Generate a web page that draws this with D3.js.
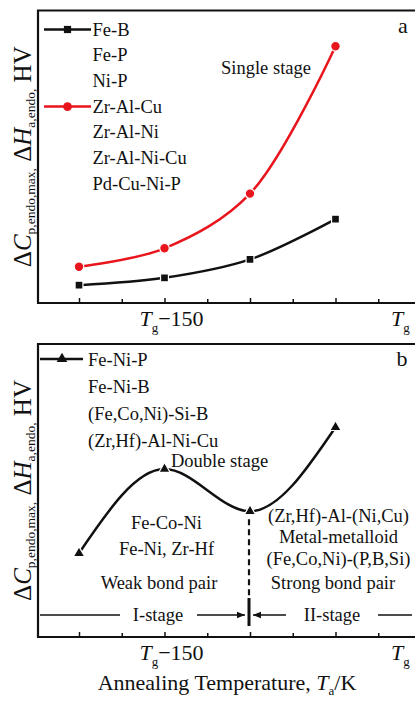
<!DOCTYPE html>
<html>
<head>
<meta charset="utf-8">
<script src="https://cdn.jsdelivr.net/npm/d3@7/dist/d3.min.js"></script>
<style>
  html, body { margin: 0; padding: 0; background: #fff; }
  svg text { font-family: 'Liberation Serif', 'Times New Roman', serif; fill: #111; }
</style>
</head>
<body>
<div id="root"></div>
<script>
// annealing steps (0 .. 3), Tg-150 sits on step 1
var steps = [0, 1, 2, 3];
var majorTicks = [0, 1, 2, 3];
var minorTicks = [0.5, 1.5, 2.5, 3.5];

// panel a (single stage)
var feB = [6.1, 8.6, 14.9, 28.7];
var zrAlCu = [12.4, 18.7, 37.4, 87.8];
var legendA = ['Fe-B', 'Fe-P', 'Ni-P', 'Zr-Al-Cu', 'Zr-Al-Ni', 'Zr-Al-Ni-Cu', 'Pd-Cu-Ni-P'];

// panel b (double stage)
var feNiP = [28.6, 57.3, 42.9, 71.6];
var legendB = ['Fe-Ni-P', 'Fe-Ni-B', '(Fe,Co,Ni)-Si-B', '(Zr,Hf)-Al-Ni-Cu'];
var weakBond = ['Fe-Co-Ni', 'Fe-Ni, Zr-Hf'];
var strongBond = ['(Zr,Hf)-Al-(Ni,Cu)', 'Metal-metalloid', '(Fe,Co,Ni)-(P,B,Si)'];

var w = 415, h = 705;
var red = '#e8161c', black = '#111';

var svg = d3.select('#root')
  .append('svg')
    .attr('width', w)
    .attr('height', h);

var defs = svg.append('defs');
defs.append('marker')
    .attr('id', 'arrow')
    .attr('viewBox', '0 0 10 10')
    .attr('refX', 10)
    .attr('refY', 5)
    .attr('markerWidth', 10)
    .attr('markerHeight', 8)
    .attr('markerUnits', 'userSpaceOnUse')
    .attr('orient', 'auto')
  .append('path')
    .attr('d', 'M0,1 L10,5 L0,9 Z')
    .attr('fill', black);

var x = d3.scaleLinear().domain([0, 3]).range([79, 335.5]);
var left = 38, right = 417;

function panel(top, bottom) {
  var y = d3.scaleLinear().domain([0, 100]).range([bottom, top]);
  var g = svg.append('g');

  g.append('path')
      .attr('d', 'M' + right + ',' + top + 'H' + left + 'V' + bottom + 'H' + right)
      .attr('fill', 'none')
      .attr('stroke', black)
      .attr('stroke-width', 2.2);

  g.append('g')
      .attr('transform', 'translate(0,' + bottom + ')')
      .call(d3.axisBottom(x).tickValues(majorTicks).tickSizeInner(-5).tickSizeOuter(0).tickFormat(''));
  g.append('g')
      .attr('transform', 'translate(0,' + bottom + ')')
      .call(d3.axisBottom(x).tickValues(minorTicks).tickSizeInner(-4).tickSizeOuter(0).tickFormat(''));
  g.selectAll('.domain').remove();
  g.selectAll('.tick line').attr('stroke', black).attr('stroke-width', 1.5);

  // tick labels
  var t1 = g.append('text')
      .attr('x', x(1) + 7)
      .attr('y', bottom + 23)
      .attr('text-anchor', 'middle')
      .style('font-size', '22px');
  t1.append('tspan').style('font-style', 'italic').text('T');
  t1.append('tspan').style('font-size', '13px').attr('dy', 6).text('g');
  t1.append('tspan').attr('dy', -6).text('\u2212150');

  var t2 = g.append('text')
      .attr('x', x(3.76))
      .attr('y', bottom + 23)
      .attr('text-anchor', 'middle')
      .style('font-size', '22px');
  t2.append('tspan').style('font-style', 'italic').text('T');
  t2.append('tspan').style('font-size', '13px').attr('dy', 6).text('g');

  // y axis title
  var yl = g.append('text')
      .attr('transform', 'translate(31,' + ((top + bottom) / 2) + ') rotate(-90)')
      .attr('text-anchor', 'middle')
      .style('font-size', '25px');
  yl.append('tspan').text('\u0394');
  yl.append('tspan').style('font-style', 'italic').text('C');
  yl.append('tspan').style('font-size', '13.5px').attr('dy', 4).text('p,endo,max,');
  yl.append('tspan').attr('dy', -4).text(' \u0394');
  yl.append('tspan').style('font-style', 'italic').text('H');
  yl.append('tspan').style('font-size', '13.5px').attr('dy', 4).text('a,endo,');
  yl.append('tspan').attr('dy', -4).text(' HV');

  return { g: g, y: y };
}

// ---------- panel a ----------
var pa = panel(10.5, 303);
var ya = pa.y;

var lineA = d3.line()
  .x(function (d, i) { return x(steps[i]); })
  .y(function (d) { return ya(d); })
  .curve(d3.curveCatmullRom);

pa.g.append('path')
    .datum(feB)
    .attr('d', lineA)
    .attr('fill', 'none')
    .attr('stroke', black)
    .attr('stroke-width', 2.5);

pa.g.append('path')
    .datum(zrAlCu)
    .attr('d', lineA)
    .attr('fill', 'none')
    .attr('stroke', red)
    .attr('stroke-width', 2.5);

pa.g.selectAll('.sq')
    .data(feB)
  .enter().append('path')
    .attr('class', 'sq')
    .attr('d', d3.symbol(d3.symbolSquare, 62))
    .attr('transform', function (d, i) { return 'translate(' + x(steps[i]) + ',' + ya(d) + ')'; })
    .attr('fill', black)
    .attr('stroke', '#fff')
    .attr('stroke-width', 1.2);

pa.g.selectAll('.ci')
    .data(zrAlCu)
  .enter().append('circle')
    .attr('class', 'ci')
    .attr('cx', function (d, i) { return x(steps[i]); })
    .attr('cy', function (d) { return ya(d); })
    .attr('r', 4.8)
    .attr('fill', red)
    .attr('stroke', '#fff')
    .attr('stroke-width', 1.2);

// legend a
pa.g.selectAll('.lg')
    .data(legendA)
  .enter().append('text')
    .attr('class', 'lg')
    .attr('x', 92.5)
    .attr('y', function (d, i) { return 35.5 + i * 25.7; })
    .style('font-size', '18.5px')
    .text(function (d) { return d; });

[[0, black, 'square'], [3, red, 'circle']].forEach(function (e) {
  var ly = 29.5 + e[0] * 25.7;
  pa.g.append('line')
      .attr('x1', 44).attr('x2', 91)
      .attr('y1', ly).attr('y2', ly)
      .attr('stroke', e[1])
      .attr('stroke-width', 2.5);
  if (e[2] === 'square') {
    pa.g.append('path')
        .attr('d', d3.symbol(d3.symbolSquare, 52))
        .attr('transform', 'translate(67.5,' + ly + ')')
        .attr('fill', e[1]);
  } else {
    pa.g.append('circle')
        .attr('cx', 67.5).attr('cy', ly).attr('r', 4.4)
        .attr('fill', e[1]);
  }
});

pa.g.append('text')
    .attr('x', 266).attr('y', 73.5)
    .attr('text-anchor', 'middle')
    .style('font-size', '18.5px')
    .text('Single stage');

pa.g.append('text')
    .attr('x', 403).attr('y', 33)
    .attr('text-anchor', 'middle')
    .style('font-size', '22px')
    .text('a');

// ---------- panel b ----------
var pb = panel(344, 637);
var yb = pb.y;

var lineB = d3.line()
  .x(function (d, i) { return x(steps[i]); })
  .y(function (d) { return yb(d); })
  .curve(d3.curveMonotoneX);

pb.g.append('path')
    .datum(feNiP)
    .attr('d', lineB)
    .attr('fill', 'none')
    .attr('stroke', black)
    .attr('stroke-width', 2.5);

// dashed divider down from the minimum
pb.g.append('line')
    .attr('x1', x(2) - 1).attr('x2', x(2) - 1)
    .attr('y1', yb(feNiP[2]) + 8).attr('y2', 596)
    .attr('stroke', black)
    .attr('stroke-width', 2.2)
    .attr('stroke-dasharray', '6,4');

pb.g.append('line')
    .attr('x1', x(2) - 1).attr('x2', x(2) - 1)
    .attr('y1', 598).attr('y2', 626)
    .attr('stroke', black)
    .attr('stroke-width', 3);

pb.g.selectAll('.tri')
    .data(feNiP)
  .enter().append('path')
    .attr('class', 'tri')
    .attr('d', d3.symbol(d3.symbolTriangle, 56))
    .attr('transform', function (d, i) { return 'translate(' + x(steps[i]) + ',' + yb(d) + ')'; })
    .attr('fill', black)
    .attr('stroke', '#fff')
    .attr('stroke-width', 1.2);

// legend b
pb.g.selectAll('.lg')
    .data(legendB)
  .enter().append('text')
    .attr('class', 'lg')
    .attr('x', 88)
    .attr('y', function (d, i) { return 365.5 + i * 27; })
    .style('font-size', '18.5px')
    .text(function (d) { return d; });

pb.g.append('line')
    .attr('x1', 40).attr('x2', 83)
    .attr('y1', 359).attr('y2', 359)
    .attr('stroke', black)
    .attr('stroke-width', 2.5);
pb.g.append('path')
    .attr('d', d3.symbol(d3.symbolTriangle, 50))
    .attr('transform', 'translate(62,359)')
    .attr('fill', black);

pb.g.append('text')
    .attr('x', 171).attr('y', 467)
    .style('font-size', '18.5px')
    .text('Double stage');

pb.g.selectAll('.weak')
    .data(weakBond)
  .enter().append('text')
    .attr('class', 'weak')
    .attr('x', 166.5)
    .attr('y', function (d, i) { return 528.5 + i * 26.5; })
    .attr('text-anchor', 'middle')
    .style('font-size', '18.5px')
    .text(function (d) { return d; });

pb.g.append('text')
    .attr('x', 159).attr('y', 589)
    .attr('text-anchor', 'middle')
    .style('font-size', '18.5px')
    .text('Weak bond pair');

pb.g.selectAll('.strong')
    .data(strongBond)
  .enter().append('text')
    .attr('class', 'strong')
    .attr('x', 338.5)
    .attr('y', function (d, i) { return 521.5 + i * 21.5; })
    .attr('text-anchor', 'middle')
    .style('font-size', '18.5px')
    .text(function (d) { return d; });

pb.g.append('text')
    .attr('x', 333).attr('y', 589)
    .attr('text-anchor', 'middle')
    .style('font-size', '18.5px')
    .text('Strong bond pair');

// stage row
var sy = 615;
pb.g.append('line')
    .attr('x1', 40).attr('x2', 120).attr('y1', sy).attr('y2', sy)
    .attr('stroke', black).attr('stroke-width', 1.6);
pb.g.append('line')
    .attr('x1', 197).attr('x2', 245).attr('y1', sy).attr('y2', sy)
    .attr('stroke', black).attr('stroke-width', 1.6)
    .attr('marker-end', 'url(#arrow)');
pb.g.append('line')
    .attr('x1', 286).attr('x2', 253).attr('y1', sy).attr('y2', sy)
    .attr('stroke', black).attr('stroke-width', 1.6)
    .attr('marker-end', 'url(#arrow)');
pb.g.append('line')
    .attr('x1', 378).attr('x2', 412).attr('y1', sy).attr('y2', sy)
    .attr('stroke', black).attr('stroke-width', 1.6);

pb.g.append('text')
    .attr('x', 158).attr('y', sy + 6)
    .attr('text-anchor', 'middle')
    .style('font-size', '18.5px')
    .text('I-stage');
pb.g.append('text')
    .attr('x', 332).attr('y', sy + 6)
    .attr('text-anchor', 'middle')
    .style('font-size', '18.5px')
    .text('II-stage');

pb.g.append('text')
    .attr('x', 402).attr('y', 366)
    .attr('text-anchor', 'middle')
    .style('font-size', '22px')
    .text('b');

// x axis title
var xt = svg.append('text')
    .attr('x', 227)
    .attr('y', 690)
    .attr('text-anchor', 'middle')
    .style('font-size', '22px');
xt.append('tspan').text('Annealing Temperature, ');
xt.append('tspan').style('font-style', 'italic').text('T');
xt.append('tspan').style('font-size', '13px').attr('dy', 5).text('a');
xt.append('tspan').attr('dy', -5).text('/K');
</script>
</body>
</html>
